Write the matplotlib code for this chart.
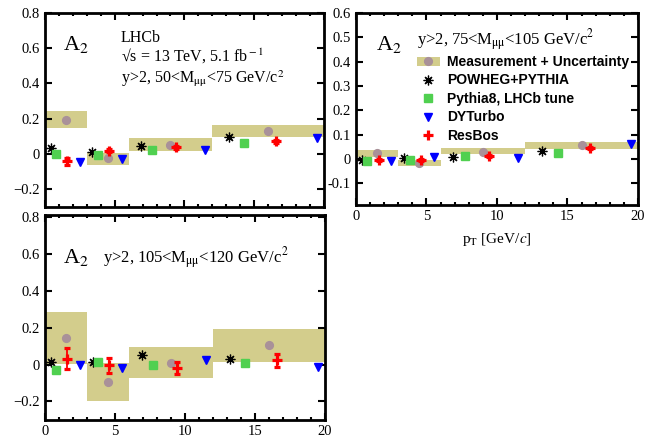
import matplotlib
matplotlib.use("Agg")
import matplotlib.pyplot as plt
from matplotlib.patches import Rectangle
from matplotlib.lines import Line2D
from matplotlib.ticker import MultipleLocator
import numpy as np

plt.rcParams['font.family'] = ['Liberation Serif', 'DejaVu Serif']
plt.rcParams['mathtext.fontset'] = 'stix'

# pT bins and marker positions (GeV/c)
bin_lo = [0, 3, 6, 12]
bin_hi = [3, 6, 12, 20]
x_meas = [1.5, 4.5, 9.0, 16.0]
x_powheg = [0.4, 3.4, 6.9, 13.2]
x_pythia = [0.8, 3.8, 7.7, 14.3]
x_resbos = [1.6, 4.6, 9.4, 16.6]
x_dyturbo = [2.5, 5.5, 11.5, 19.5]

# 50 < M < 75
m1_val = [0.195, -0.022, 0.053, 0.128]
m1_lo = [0.145, -0.062, 0.019, 0.094]
m1_hi = [0.245, 0.003, 0.088, 0.164]
m1_powheg = [0.032, 0.009, 0.047, 0.094]
m1_pythia = [-0.002, -0.008, 0.024, 0.064]
m1_dyturbo = [-0.045, -0.026, 0.021, 0.09]
m1_resbos = [-0.042, 0.019, 0.038, 0.072]
m1_resbos_err = [0.02, 0.01, 0.008, 0.008]

# 75 < M < 105
m2_val = [0.023, -0.017, 0.030, 0.058]
m2_lo = [0.007, -0.031, 0.018, 0.041]
m2_hi = [0.038, -0.003, 0.044, 0.069]
m2_powheg = [-0.004, 0.004, 0.007, 0.031]
m2_pythia = [-0.008, -0.004, 0.010, 0.023]
m2_dyturbo = [-0.010, 0.006, 0.004, 0.060]
m2_resbos = [-0.003, -0.003, 0.011, 0.045]
m2_resbos_err = [0.004, 0.004, 0.004, 0.004]

# 105 < M < 120
m3_val = [0.144, -0.092, 0.009, 0.103]
m3_lo = [0.004, -0.198, -0.072, 0.011]
m3_hi = [0.285, 0.009, 0.094, 0.193]
m3_powheg = [0.013, 0.013, 0.054, 0.032]
m3_pythia = [-0.027, 0.011, -0.005, 0.009]
m3_dyturbo = [-0.005, -0.020, 0.027, -0.013]
m3_resbos = [0.031, -0.004, -0.020, 0.022]
m3_resbos_err = [0.057, 0.040, 0.032, 0.037]

band_col = '#d3cd8c'
meas_col = '#a99199'
green = '#50d050'
star = (8, 2, 0)


def draw_panel(ax, val, lo, hi, powheg, pythia, dyturbo, resbos, rerr, ylim, ymaj):
    for a, b, l, h in zip(bin_lo, bin_hi, lo, hi):
        ax.add_patch(Rectangle((a, l), b - a, h - l, facecolor=band_col,
                               edgecolor='none', zorder=1))
    ax.plot(x_meas, val, 'o', color=meas_col, ms=5.6, zorder=2)
    ax.plot(x_powheg, powheg, marker=star, ls='none', color='black',
            ms=7, mew=0.9, zorder=3)
    ax.plot(x_pythia, pythia, 's', color=green, ms=5.2, zorder=3)
    ax.plot(x_dyturbo, dyturbo, 'v', color='#0000ff', ms=5.5, zorder=3)
    ax.errorbar(x_resbos, resbos, yerr=rerr, fmt='+', color='#ff0000', ms=7,
                mew=2.3, elinewidth=1.3, capsize=2, capthick=1.1, zorder=4)
    ax.set_xlim(0, 20)
    ax.set_ylim(*ylim)
    ax.yaxis.set_major_locator(MultipleLocator(ymaj))
    ax.xaxis.set_major_locator(MultipleLocator(5))
    ax.xaxis.set_minor_locator(MultipleLocator(1))
    ax.tick_params(which='both', direction='in', top=True, right=True,
                   labelsize=10.5, width=1.5)
    ax.tick_params(which='major', length=5)
    ax.tick_params(which='minor', length=2.5)
    for s in ax.spines.values():
        s.set_linewidth(2)


fig = plt.figure(figsize=(6.67, 4.43), dpi=100)
ax1 = fig.add_axes([0.0675, 0.533, 0.418, 0.438])
ax2 = fig.add_axes([0.5337, 0.537, 0.4228, 0.434])
ax3 = fig.add_axes([0.0675, 0.052, 0.4198, 0.463])

draw_panel(ax1, m1_val, m1_lo, m1_hi, m1_powheg, m1_pythia, m1_dyturbo,
           m1_resbos, m1_resbos_err, (-0.3, 0.8), 0.2)
draw_panel(ax2, m2_val, m2_lo, m2_hi, m2_powheg, m2_pythia, m2_dyturbo,
           m2_resbos, m2_resbos_err, (-0.19, 0.6), 0.1)
draw_panel(ax3, m3_val, m3_lo, m3_hi, m3_powheg, m3_pythia, m3_dyturbo,
           m3_resbos, m3_resbos_err, (-0.3, 0.81), 0.2)

ax1.set_xticklabels([])
ax1.set_yticks([-0.2, 0, 0.2, 0.4, 0.6, 0.8])
ax1.set_yticklabels(['\u22120.2', '0', '0.2', '0.4', '0.6', '0.8'])
ax3.set_yticks([-0.2, 0, 0.2, 0.4, 0.6, 0.8])
ax3.set_yticklabels(['\u22120.2', '0', '0.2', '0.4', '0.6', '0.8'])
ax2.set_yticks([-0.1, 0, 0.1, 0.2, 0.3, 0.4, 0.5, 0.6])
ax2.set_yticklabels(['-0.1', '0', '0.1', '0.2', '0.3', '0.4', '0.5', '0.6'])
ax2.set_xlabel(r'p$_{\rm T}$ [GeV/$c$]', fontsize=11, labelpad=6)

mm = 'M$_{\\rm \u03bc\u03bc}$'

# panel labels
ax1.text(0.065, 0.81, r'A$_2$', transform=ax1.transAxes, fontsize=16)
ax1.text(0.271, 0.852, 'LHCb', transform=ax1.transAxes, fontsize=11.5)
ax1.text(0.271, 0.748, '\u221as = 13 TeV, 5.1 fb$^{\\rm -1}$',
         transform=ax1.transAxes, fontsize=11.5)
ax1.text(0.271, 0.64, 'y>2, 50<' + mm + '<75 GeV/c$^2$',
         transform=ax1.transAxes, fontsize=11.5)
ax2.text(0.071, 0.807, r'A$_2$', transform=ax2.transAxes, fontsize=16)
ax2.text(0.215, 0.833, 'y>2, 75<' + mm + '<105 GeV/c$^2$',
         transform=ax2.transAxes, fontsize=12)
ax3.text(0.065, 0.767, r'A$_2$', transform=ax3.transAxes, fontsize=16)
ax3.text(0.207, 0.764, 'y>2, 105<' + mm + '<120 GeV/c$^2$',
         transform=ax3.transAxes, fontsize=12)

# legend
h_meas = (Rectangle((0, 0), 1, 1, facecolor=band_col, edgecolor='none'),
          Line2D([], [], marker='o', ls='none', color=meas_col, ms=5.6))
h_pow = Line2D([], [], marker=star, ls='none', color='black', ms=7, mew=0.9)
h_py = Line2D([], [], marker='s', ls='none', color=green, ms=5.2)
h_dy = Line2D([], [], marker='v', ls='none', color='#0000ff', ms=5.5)
h_rb = Line2D([], [], marker='+', ls='none', color='#ff0000', ms=7, mew=2.3)
ax2.legend([h_meas, h_pow, h_py, h_dy, h_rb],
           ['Measurement + Uncertainty', 'POWHEG+PYTHIA', 'Pythia8, LHCb tune',
            'DYTurbo', 'ResBos'],
           loc='upper left', bbox_to_anchor=(0.205, 0.795), frameon=False,
           prop={'family': 'Liberation Sans', 'weight': 'bold', 'size': 10},
           handlelength=1.7, handleheight=0.6, handletextpad=0.5,
           labelspacing=0.32, borderaxespad=0, borderpad=0.2)

fig.savefig('out.png', dpi=100)
